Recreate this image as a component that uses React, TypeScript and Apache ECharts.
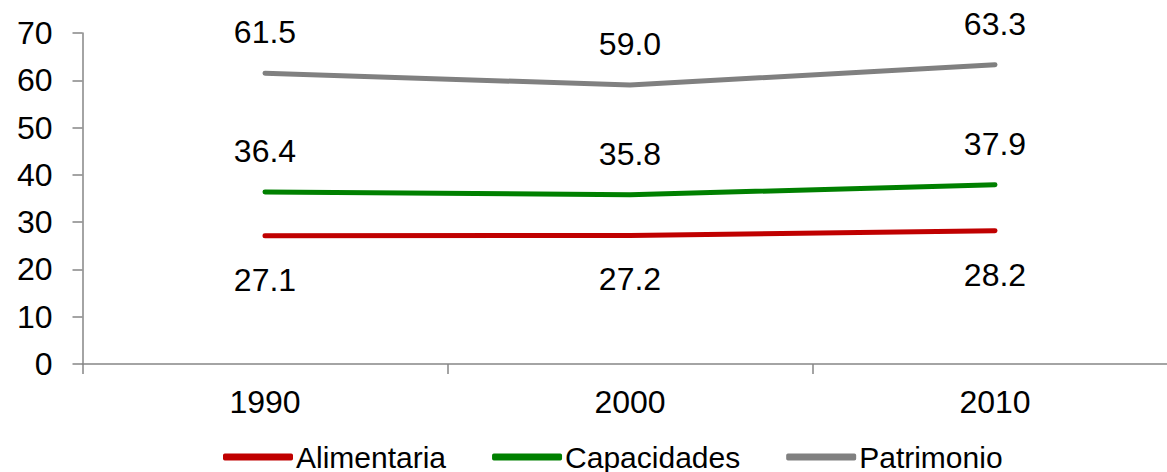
import React, { useEffect, useRef } from "react";
import * as echarts from "echarts";

const categories = ["1990", "2000", "2010"];
const alimentaria = [27.1, 27.2, 28.2];
const capacidades = [36.4, 35.8, 37.9];
const patrimonio = [61.5, 59.0, 63.3];
const seriesNames = ["Alimentaria", "Capacidades", "Patrimonio"];
const colors = ["#C00000", "#008000", "#808080"];

const FONT = "'Liberation Sans', Arial, sans-serif";

export default function App() {
  const ref = useRef<HTMLDivElement>(null);
  useEffect(() => {
    if (!ref.current) return;
    const chart = echarts.init(ref.current, null, { renderer: "svg" });
    const mk = (name: string, data: number[], color: string, pos: "top" | "bottom", dist: number) => ({
      name,
      type: "line",
      data,
      symbol: "circle",
      symbolSize: 0.01,
      showSymbol: true,
      lineStyle: { color, width: 5, cap: "round" },
      itemStyle: { color },
      label: {
        show: true,
        position: pos,
        distance: dist,
        formatter: (p: any) => Number(p.value).toFixed(1),
        color: "#000",
        fontSize: 32,
        fontFamily: FONT,
      },
    });
    chart.setOption({
      animation: false,
      textStyle: { fontFamily: FONT },
      grid: {
        left: 82.5,
        width: 1095,
        top: 33,
        height: 331,
        containLabel: false,
        outerBoundsMode: "none",
      },
      legend: {
        data: seriesNames,
        left: 218,
        top: 437,
        icon: "roundRect",
        itemWidth: 70,
        itemHeight: 7,
        itemGap: 46,
        textStyle: { fontSize: 30, color: "#000", fontFamily: FONT, padding: [0, 0, 0, -2] },
      },
      xAxis: {
        type: "category",
        data: categories,
        boundaryGap: true,
        axisLine: { lineStyle: { color: "#868686", width: 1.5 } },
        axisTick: { show: true, length: 10, lineStyle: { color: "#868686", width: 1.5 } },
        axisLabel: { color: "#000", fontSize: 32, fontFamily: FONT, margin: 22 },
      },
      yAxis: {
        type: "value",
        min: 0,
        max: 70,
        interval: 10,
        splitLine: { show: false },
        axisLine: { show: true, lineStyle: { color: "#868686", width: 1.5 } },
        axisTick: { show: true, length: 10, lineStyle: { color: "#868686", width: 1.5 } },
        axisLabel: { color: "#000", fontSize: 32, fontFamily: FONT, margin: 30 },
      },
      series: [
        mk(seriesNames[0], alimentaria, colors[0], "bottom", 28),
        mk(seriesNames[1], capacidades, colors[1], "top", 25),
        mk(seriesNames[2], patrimonio, colors[2], "top", 25),
      ],
    });
    return () => chart.dispose();
  }, []);
  return (
    <div
      ref={ref}
      style={{ position: "fixed", left: 0, top: 0, width: 1167, height: 472, background: "#fff" }}
    />
  );
}
